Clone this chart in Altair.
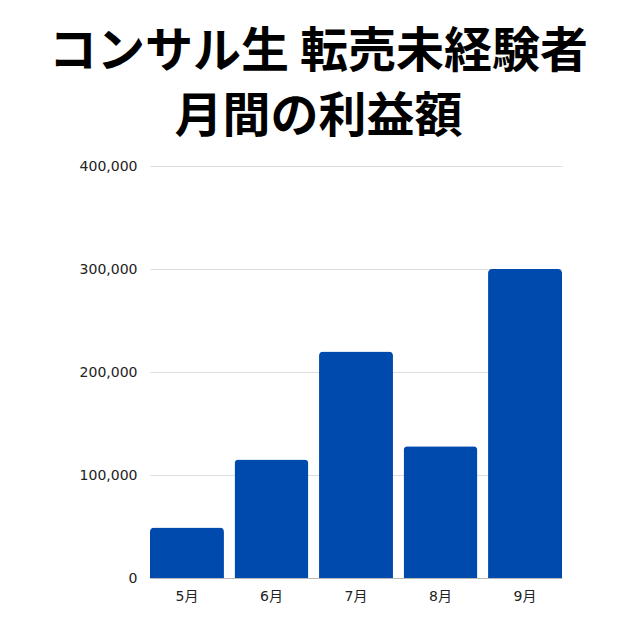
import altair as alt
import pandas as pd

months = ["5月", "6月", "7月", "8月", "9月"]
profits = [49000, 115000, 220000, 128000, 300000]

df = pd.DataFrame({"month": months, "profit": profits})

chart = alt.Chart(df).mark_bar(
    color="#004aad", cornerRadiusTopLeft=4, cornerRadiusTopRight=4
).encode(
    x=alt.X("month:N", sort=months, title=None,
            scale=alt.Scale(paddingInner=0.125, paddingOuter=0),
            axis=alt.Axis(labelAngle=0, ticks=False, domainColor="#bbbbbb",
                          labelFont="DejaVu Sans, Noto Sans CJK JP", labelFontSize=14,
                          labelColor="#222222", labelPadding=11)),
    y=alt.Y("profit:Q", title=None,
            scale=alt.Scale(domain=[0, 400000]),
            axis=alt.Axis(values=[0, 100000, 200000, 300000, 400000], format=",.0f",
                          ticks=False, domain=False, gridColor="#dddddd",
                          labelFont="DejaVu Sans", labelFontSize=14,
                          labelColor="#222222", labelPadding=13)),
).properties(
    width=412, height=412,
    autosize=alt.AutoSizeParams(type="none"),
    padding={"left": 142, "top": 158, "right": 70, "bottom": 54},
    title=alt.Title(["コンサル生 転売未経験者", "月間の利益額"],
                    font="Noto Sans CJK JP", fontSize=48, fontWeight="bold",
                    color="#000000", anchor="middle", frame="bounds",
                    lineHeight=65, offset=17, dx=-2),
).configure_view(stroke=None)

chart.save("out.html", embed_options={"renderer": "svg", "actions": False})
